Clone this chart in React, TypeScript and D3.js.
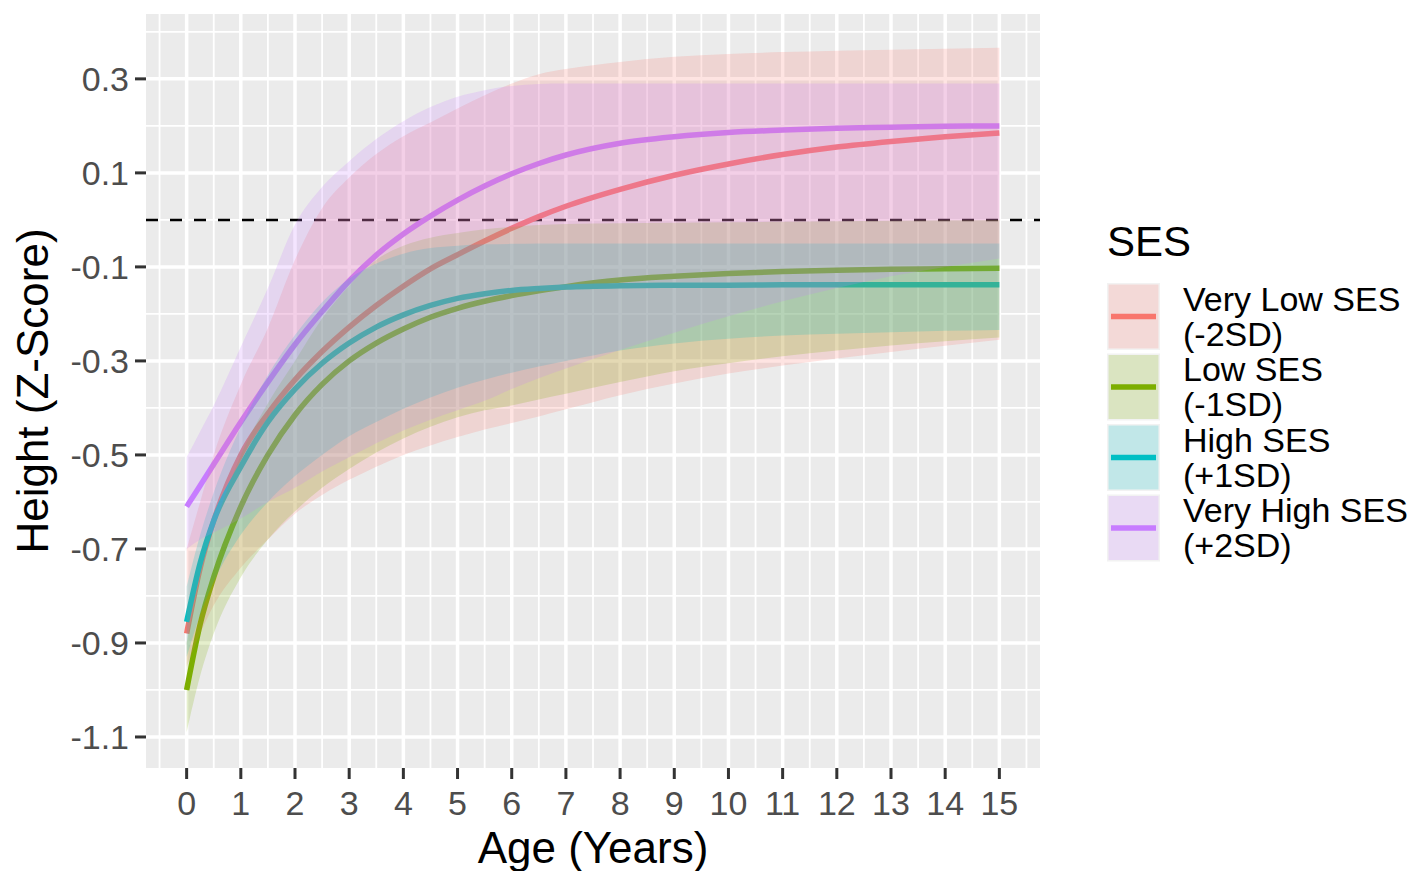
import React from "react";
import * as d3 from "d3";

// Age grid (years) at which the fitted curves and their bands are tabulated
const AGES = [0, 0.25, 0.5, 1, 1.5, 2, 2.5, 3, 3.5, 4, 4.5, 5, 5.5, 6, 6.5, 7, 8, 9, 10, 11, 12, 13, 14, 15];

// Very Low SES (-2SD)
const VLOW_FIT = [-0.88, -0.74, -0.64, -0.5, -0.412, -0.34, -0.28, -0.228, -0.182, -0.141, -0.104, -0.074, -0.045, -0.018, 0.007, 0.029, 0.065, 0.095, 0.119, 0.139, 0.155, 0.167, 0.177, 0.185];
const VLOW_LO = [-0.95, -0.88, -0.82, -0.74, -0.68, -0.625, -0.585, -0.553, -0.525, -0.5, -0.48, -0.462, -0.446, -0.432, -0.418, -0.403, -0.373, -0.348, -0.327, -0.31, -0.295, -0.281, -0.268, -0.255];
const VLOW_HI = [-0.7, -0.6, -0.5, -0.35, -0.23, -0.085, 0.025, 0.09, 0.14, 0.178, 0.207, 0.237, 0.265, 0.29, 0.31, 0.321, 0.336, 0.347, 0.353, 0.357, 0.36, 0.362, 0.364, 0.366];

// Low SES (-1SD)
const LOW_FIT = [-1.0, -0.86, -0.76, -0.61, -0.5, -0.415, -0.35, -0.3, -0.262, -0.232, -0.207, -0.188, -0.173, -0.161, -0.151, -0.142, -0.128, -0.12, -0.114, -0.11, -0.107, -0.105, -0.104, -0.103];
const LOW_LO = [-1.09, -0.97, -0.88, -0.76, -0.68, -0.62, -0.57, -0.53, -0.495, -0.465, -0.44, -0.42, -0.405, -0.395, -0.382, -0.37, -0.345, -0.322, -0.305, -0.29, -0.278, -0.267, -0.258, -0.25];
const LOW_HI = [-0.9, -0.76, -0.66, -0.5, -0.39, -0.3, -0.21, -0.14, -0.085, -0.055, -0.038, -0.028, -0.02, -0.015, -0.011, -0.009, -0.007, -0.006, -0.005, -0.004, -0.003, -0.002, -0.001, 0.0];

// High SES (+1SD)
const HIGH_FIT = [-0.855, -0.73, -0.64, -0.525, -0.43, -0.36, -0.305, -0.262, -0.228, -0.202, -0.182, -0.167, -0.157, -0.15, -0.146, -0.143, -0.14, -0.139, -0.139, -0.138, -0.138, -0.138, -0.138, -0.138];
const HIGH_LO = [-0.93, -0.84, -0.77, -0.67, -0.6, -0.545, -0.5, -0.46, -0.43, -0.402, -0.378, -0.357, -0.34, -0.325, -0.312, -0.3, -0.278, -0.263, -0.253, -0.246, -0.242, -0.239, -0.236, -0.234];
const HIGH_HI = [-0.78, -0.67, -0.58, -0.44, -0.33, -0.245, -0.175, -0.125, -0.093, -0.072, -0.06, -0.055, -0.052, -0.051, -0.05, -0.05, -0.05, -0.05, -0.05, -0.05, -0.05, -0.05, -0.05, -0.05];

// Very High SES (+2SD)
const VHIGH_FIT = [-0.61, -0.565, -0.52, -0.43, -0.345, -0.265, -0.195, -0.13, -0.075, -0.03, 0.008, 0.042, 0.072, 0.098, 0.12, 0.138, 0.163, 0.177, 0.186, 0.191, 0.195, 0.197, 0.199, 0.2];
const VHIGH_LO = [-0.7, -0.68, -0.665, -0.635, -0.6, -0.57, -0.535, -0.505, -0.475, -0.448, -0.425, -0.405, -0.385, -0.36, -0.337, -0.316, -0.277, -0.24, -0.205, -0.173, -0.145, -0.12, -0.1, -0.082];
const VHIGH_HI = [-0.505, -0.45, -0.395, -0.27, -0.145, -0.01, 0.07, 0.125, 0.172, 0.21, 0.24, 0.262, 0.276, 0.285, 0.289, 0.29, 0.29, 0.29, 0.29, 0.29, 0.29, 0.29, 0.29, 0.29];

const GROUP_LABELS = [
  ["Very Low SES", "(-2SD)"],
  ["Low SES", "(-1SD)"],
  ["High SES", "(+1SD)"],
  ["Very High SES", "(+2SD)"],
];
const GROUP_COLORS = ["#F8766D", "#7CAE00", "#00BFC4", "#C77CFF"];

const X_TICKS = d3.range(0, 16);
const Y_TICKS = [-1.1, -0.9, -0.7, -0.5, -0.3, -0.1, 0.1, 0.3];
const REFERENCE_Z = 0;

const W = 1419;
const H = 871;
const PANEL = { left: 146, right: 1040, top: 14, bottom: 768 };
const FONT = "'Liberation Sans', Arial, sans-serif";

export default function App() {
  const x = d3.scaleLinear().domain([-0.75, 15.75]).range([PANEL.left, PANEL.right]);
  const y = d3.scaleLinear().domain([-1.166, 0.438]).range([PANEL.bottom, PANEL.top]);

  const groups = [
    { fit: VLOW_FIT, lo: VLOW_LO, hi: VLOW_HI },
    { fit: LOW_FIT, lo: LOW_LO, hi: LOW_HI },
    { fit: HIGH_FIT, lo: HIGH_LO, hi: HIGH_HI },
    { fit: VHIGH_FIT, lo: VHIGH_LO, hi: VHIGH_HI },
  ].map((g, i) => ({
    ...g,
    color: GROUP_COLORS[i],
    rows: AGES.map((a, j) => ({ age: a, fit: g.fit[j], lo: g.lo[j], hi: g.hi[j] })),
  }));

  type Row = { age: number; fit: number; lo: number; hi: number };
  const line = d3
    .line<Row>()
    .x((d) => x(d.age))
    .y((d) => y(d.fit))
    .curve(d3.curveMonotoneX);
  const band = d3
    .area<Row>()
    .x((d) => x(d.age))
    .y0((d) => y(d.lo))
    .y1((d) => y(d.hi))
    .curve(d3.curveMonotoneX);

  const xMinor = d3.range(-0.5, 16, 1);
  const yMinor = d3.range(-10, 5, 2).map((v) => v / 10);

  const legendTop = 283;
  const keyStep = 70.5;
  const keyH = 67;
  const keyW = 53;
  const keyX = 1107;

  return (
    <svg
      width={W}
      height={H}
      style={{ position: "absolute", left: 0, top: 0, background: "#fff" }}
      fontFamily={FONT}
    >
      <defs>
        <clipPath id="panel-clip">
          <rect x={PANEL.left} y={PANEL.top} width={PANEL.right - PANEL.left} height={PANEL.bottom - PANEL.top} />
        </clipPath>
      </defs>
      <rect x={PANEL.left} y={PANEL.top} width={PANEL.right - PANEL.left} height={PANEL.bottom - PANEL.top} fill="#EBEBEB" />

      {/* grid */}
      {yMinor.map((v) => (
        <line key={"ym" + v} x1={PANEL.left} x2={PANEL.right} y1={y(v)} y2={y(v)} stroke="#fff" strokeWidth={1.8} />
      ))}
      {xMinor.map((v) => (
        <line key={"xm" + v} x1={x(v)} x2={x(v)} y1={PANEL.top} y2={PANEL.bottom} stroke="#fff" strokeWidth={1.8} />
      ))}
      {Y_TICKS.map((v) => (
        <line key={"yM" + v} x1={PANEL.left} x2={PANEL.right} y1={y(v)} y2={y(v)} stroke="#fff" strokeWidth={3.5} />
      ))}
      {X_TICKS.map((v) => (
        <line key={"xM" + v} x1={x(v)} x2={x(v)} y1={PANEL.top} y2={PANEL.bottom} stroke="#fff" strokeWidth={3.5} />
      ))}

      <g clipPath="url(#panel-clip)">
        <line
          x1={PANEL.left}
          x2={PANEL.right}
          y1={y(REFERENCE_Z)}
          y2={y(REFERENCE_Z)}
          stroke="#000"
          strokeWidth={2.5}
          strokeDasharray="12 12"
        />
        {groups.map((g, i) => (
          <path key={"l" + i} d={line(g.rows) || ""} fill="none" stroke={g.color} strokeWidth={5.5} />
        ))}
        {groups.map((g, i) => (
          <path key={"b" + i} d={band(g.rows) || ""} fill={g.color} fillOpacity={0.2} stroke="none" />
        ))}
      </g>

      {/* y axis */}
      {Y_TICKS.map((v) => (
        <g key={"yt" + v}>
          <line x1={135} x2={PANEL.left} y1={y(v)} y2={y(v)} stroke="#333" strokeWidth={3} />
          <text x={129} y={y(v)} dy="0.36em" textAnchor="end" fontSize={34} fill="#4D4D4D">
            {v.toFixed(1)}
          </text>
        </g>
      ))}
      {/* x axis */}
      {X_TICKS.map((v) => (
        <g key={"xt" + v}>
          <line x1={x(v)} x2={x(v)} y1={PANEL.bottom} y2={PANEL.bottom + 11} stroke="#333" strokeWidth={3} />
          <text x={x(v)} y={815} textAnchor="middle" fontSize={34} fill="#4D4D4D">
            {v}
          </text>
        </g>
      ))}

      <text x={(PANEL.left + PANEL.right) / 2} y={863} textAnchor="middle" fontSize={44} fill="#000">
        Age (Years)
      </text>
      <text
        transform={`translate(48, ${(PANEL.top + PANEL.bottom) / 2}) rotate(-90)`}
        textAnchor="middle"
        fontSize={44}
        fill="#000"
      >
        Height (Z-Score)
      </text>

      {/* legend */}
      <text x={keyX} y={256} fontSize={42} fill="#000">
        SES
      </text>
      {groups.map((g, i) => {
        const top = legendTop + i * keyStep;
        const cy = top + keyH / 2;
        return (
          <g key={"lg" + i}>
            <rect x={keyX} y={top} width={keyW} height={keyH} fill="#F2F2F2" />
            <rect x={keyX + 1.5} y={top + 1.5} width={keyW - 3} height={keyH - 3} fill={g.color} fillOpacity={0.2} />
            <line x1={keyX + 4} x2={keyX + keyW - 4} y1={cy} y2={cy} stroke={g.color} strokeWidth={5.5} />
            <text x={1183} y={cy - 6} fontSize={34} fill="#000">
              {GROUP_LABELS[i][0]}
            </text>
            <text x={1183} y={cy + 29} fontSize={34} fill="#000">
              {GROUP_LABELS[i][1]}
            </text>
          </g>
        );
      })}
    </svg>
  );
}
